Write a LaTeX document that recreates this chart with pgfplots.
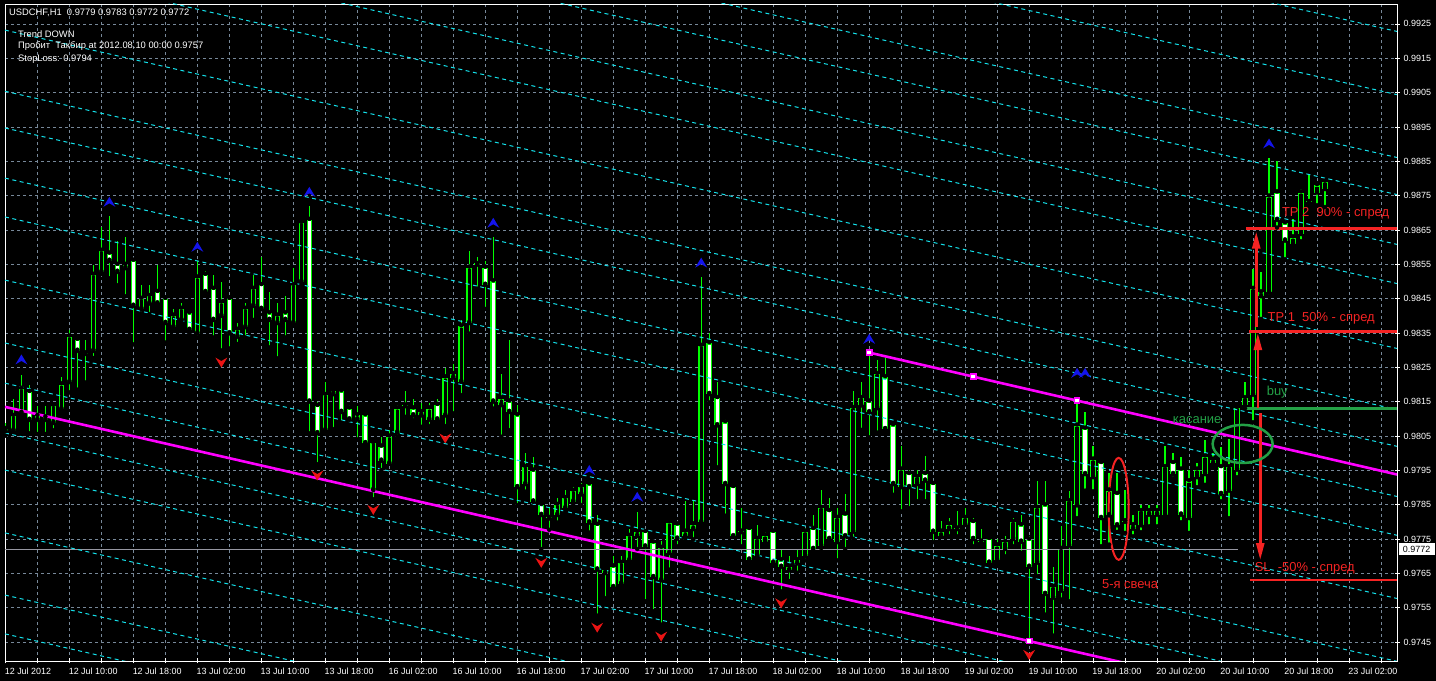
\documentclass[border=0pt]{standalone}
\usepackage{fontspec}
\setmainfont{Liberation Sans}
\usepackage{pgfplots}
\usepackage{pgfplotstable}
\pgfplotsset{compat=1.18}
\usetikzlibrary{arrows.meta}

\definecolor{mtgreen}{RGB}{0,255,0}
\definecolor{mtcyan}{RGB}{20,225,235}
\definecolor{mtmag}{RGB}{255,0,255}
\definecolor{mtgrid}{RGB}{119,136,153}
\definecolor{bidgray}{RGB}{150,150,160}
\definecolor{fracblue}{RGB}{20,20,235}
\definecolor{fracred}{RGB}{235,20,20}
\definecolor{annred}{RGB}{245,35,35}
\definecolor{anngreen}{RGB}{35,160,70}

% fractal arrows
\pgfdeclareplotmark{frup}{%
  \pgfpathmoveto{\pgfpoint{0bp}{5bp}}%
  \pgfpathlineto{\pgfpoint{-6bp}{-5bp}}%
  \pgfpathlineto{\pgfpoint{0bp}{-1.5bp}}%
  \pgfpathlineto{\pgfpoint{6bp}{-5bp}}%
  \pgfpathclose\pgfusepathqfill}
\pgfdeclareplotmark{frdown}{%
  \pgfpathmoveto{\pgfpoint{0bp}{-5bp}}%
  \pgfpathlineto{\pgfpoint{-6bp}{5bp}}%
  \pgfpathlineto{\pgfpoint{0bp}{1.5bp}}%
  \pgfpathlineto{\pgfpoint{6bp}{5bp}}%
  \pgfpathclose\pgfusepathqfill}

% USDCHF H1: bar, open, high, low, close
\pgfplotstableread{
i o h l c
0 0.98070 0.98088 0.98051 0.98064
1 0.98066 0.98158 0.98064 0.98108
2 0.98117 0.98229 0.98109 0.98187
3 0.98178 0.98200 0.98058 0.98097
4 0.98108 0.98137 0.98056 0.98097
5 0.98104 0.98137 0.98056 0.98097
6 0.98088 0.98140 0.98067 0.98137
7 0.98128 0.98221 0.98117 0.98200
8 0.98207 0.98360 0.98177 0.98339
9 0.98330 0.98330 0.98185 0.98298
10 0.98290 0.98330 0.98206 0.98289
11 0.98298 0.98548 0.98277 0.98519
12 0.98527 0.98660 0.98522 0.98589
13 0.98581 0.98692 0.98509 0.98560
14 0.98548 0.98619 0.98489 0.98528
15 0.98548 0.98631 0.98457 0.98539
16 0.98560 0.98560 0.98317 0.98429
17 0.98420 0.98491 0.98407 0.98449
18 0.98436 0.98491 0.98405 0.98457
19 0.98469 0.98548 0.98436 0.98436
20 0.98449 0.98449 0.98322 0.98379
21 0.98367 0.98420 0.98357 0.98400
22 0.98388 0.98438 0.98388 0.98420
23 0.98407 0.98407 0.98349 0.98359
24 0.98349 0.98561 0.98337 0.98511
25 0.98519 0.98530 0.98469 0.98469
26 0.98478 0.98519 0.98337 0.98388
27 0.98400 0.98499 0.98299 0.98438
28 0.98449 0.98449 0.98305 0.98349
29 0.98339 0.98379 0.98318 0.98359
30 0.98367 0.98438 0.98337 0.98420
31 0.98429 0.98519 0.98388 0.98478
32 0.98489 0.98570 0.98420 0.98420
33 0.98407 0.98469 0.98308 0.98388
34 0.98379 0.98438 0.98276 0.98400
35 0.98407 0.98457 0.98337 0.98388
36 0.98379 0.98539 0.98379 0.98489
37 0.98499 0.98679 0.98489 0.98670
38 0.98679 0.98721 0.98058 0.98150
39 0.98137 0.98148 0.97968 0.98058
40 0.98067 0.98207 0.98058 0.98169
41 0.98180 0.98188 0.98070 0.98172
42 0.98180 0.98180 0.98089 0.98120
43 0.98130 0.98140 0.98098 0.98098
44 0.98110 0.98137 0.98040 0.98098
45 0.98110 0.98110 0.98029 0.98029
46 0.97893 0.98029 0.97866 0.98029
47 0.98019 0.98048 0.97951 0.97978
48 0.97970 0.98067 0.97970 0.98048
49 0.98060 0.98140 0.98048 0.98130
50 0.98138 0.98180 0.98106 0.98137
51 0.98130 0.98159 0.98096 0.98110
52 0.98119 0.98145 0.98077 0.98110
53 0.98098 0.98147 0.98079 0.98130
54 0.98140 0.98159 0.98098 0.98098
55 0.98110 0.98249 0.98079 0.98220
56 0.98230 0.98261 0.98116 0.98220
57 0.98208 0.98389 0.98169 0.98369
58 0.98379 0.98590 0.98348 0.98540
59 0.98549 0.98571 0.98479 0.98550
60 0.98540 0.98559 0.98420 0.98490
61 0.98500 0.98631 0.98130 0.98150
62 0.98140 0.98230 0.98048 0.98159
63 0.98150 0.98331 0.98067 0.98120
64 0.98110 0.98140 0.97849 0.97901
65 0.97910 0.98000 0.97888 0.97959
66 0.97949 0.97990 0.97859 0.97859
67 0.97849 0.97849 0.97721 0.97820
68 0.97811 0.97840 0.97777 0.97810
69 0.97820 0.97869 0.97798 0.97849
70 0.97840 0.97893 0.97830 0.97869
71 0.97859 0.97903 0.97849 0.97890
72 0.97880 0.97912 0.97849 0.97901
73 0.97909 0.97909 0.97769 0.97798
74 0.97791 0.97820 0.97527 0.97661
75 0.97651 0.97670 0.97578 0.97661
76 0.97670 0.97701 0.97610 0.97610
77 0.97620 0.97701 0.97620 0.97680
78 0.97688 0.97779 0.97680 0.97759
79 0.97770 0.97830 0.97721 0.97759
80 0.97770 0.97772 0.97569 0.97728
81 0.97740 0.97740 0.97540 0.97639
82 0.97630 0.97743 0.97501 0.97724
83 0.97709 0.97798 0.97661 0.97798
84 0.97792 0.97792 0.97729 0.97751
85 0.97758 0.97862 0.97751 0.97771
86 0.97779 0.97862 0.97749 0.97792
87 0.97799 0.98513 0.97790 0.98312
88 0.98320 0.98351 0.98148 0.98172
89 0.98160 0.98208 0.97959 0.98081
90 0.98090 0.98100 0.97818 0.97910
91 0.97901 0.97910 0.97758 0.97758
92 0.97771 0.97840 0.97729 0.97770
93 0.97779 0.97779 0.97681 0.97690
94 0.97702 0.97792 0.97702 0.97750
95 0.97741 0.97771 0.97741 0.97760
96 0.97771 0.97771 0.97681 0.97681
97 0.97688 0.97719 0.97598 0.97669
98 0.97659 0.97700 0.97628 0.97669
99 0.97679 0.97719 0.97652 0.97688
100 0.97700 0.97782 0.97688 0.97771
101 0.97779 0.97821 0.97710 0.97721
102 0.97731 0.97892 0.97724 0.97840
103 0.97831 0.97871 0.97750 0.97750
104 0.97741 0.97840 0.97688 0.97811
105 0.97821 0.97882 0.97721 0.97758
106 0.97771 0.98181 0.97751 0.98131
107 0.98139 0.98208 0.98068 0.98160
108 0.98150 0.98293 0.98046 0.98119
109 0.98131 0.98271 0.98060 0.98230
110 0.98221 0.98276 0.98070 0.98070
111 0.98081 0.98081 0.97879 0.97910
112 0.97901 0.98021 0.97831 0.97952
113 0.97939 0.97952 0.97840 0.97901
114 0.97910 0.97952 0.97860 0.97930
115 0.97939 0.97992 0.97860 0.97920
116 0.97910 0.97910 0.97741 0.97771
117 0.97758 0.97802 0.97758 0.97771
118 0.97779 0.97811 0.97758 0.97792
119 0.97780 0.97833 0.97758 0.97779
120 0.97792 0.97840 0.97792 0.97811
121 0.97799 0.97811 0.97729 0.97750
122 0.97742 0.97779 0.97731 0.97741
123 0.97750 0.97750 0.97681 0.97681
124 0.97688 0.97750 0.97679 0.97731
125 0.97721 0.97758 0.97700 0.97741
126 0.97750 0.97811 0.97729 0.97799
127 0.97790 0.97821 0.97710 0.97742
128 0.97748 0.97758 0.97450 0.97669
129 0.97681 0.97918 0.97642 0.97840
130 0.97848 0.97918 0.97530 0.97590
131 0.97579 0.97669 0.97469 0.97610
132 0.97600 0.97789 0.97574 0.97721
133 0.97731 0.97891 0.97569 0.97860
134 0.97848 0.98150 0.97811 0.98080
135 0.98071 0.98119 0.97891 0.97939
136 0.97930 0.98021 0.97889 0.97981
137 0.97971 0.97971 0.97729 0.97811
138 0.97819 0.97942 0.97734 0.97891
139 0.97881 0.97942 0.97771 0.97790
140 0.97801 0.97893 0.97768 0.97800
141 0.97790 0.97821 0.97758 0.97780
142 0.97790 0.97850 0.97770 0.97831
143 0.97821 0.97850 0.97787 0.97831
144 0.97821 0.97850 0.97787 0.97831
145 0.97819 0.98021 0.97809 0.97959
146 0.97971 0.98002 0.97927 0.97939
147 0.97952 0.97990 0.97799 0.97821
148 0.97811 0.97952 0.97768 0.97918
149 0.97930 0.97971 0.97901 0.97952
150 0.97939 0.98039 0.97908 0.97990
151 0.97981 0.98000 0.97963 0.97971
152 0.97959 0.98019 0.97860 0.97881
153 0.97891 0.98042 0.97811 0.97959
154 0.97952 0.98131 0.97930 0.98131
155 0.98140 0.98208 0.98131 0.98160
156 0.98170 0.98536 0.98090 0.98478
157 0.98468 0.98527 0.98391 0.98457
158 0.98468 0.98861 0.98457 0.98747
159 0.98759 0.98851 0.98657 0.98679
160 0.98669 0.98669 0.98565 0.98619
161 0.98609 0.98681 0.98609 0.98628
162 0.98638 0.98769 0.98617 0.98759
163 0.98731 0.98812 0.98730 0.98730
164 0.98759 0.98783 0.98722 0.98780
165 0.98769 0.98798 0.98717 0.98790
}\candles

\begin{document}
\begin{tikzpicture}
\useasboundingbox (0,0) rectangle (1436bp,681bp);
\fill[black] (0,0) rectangle (1436bp,681bp);
\begin{axis}[
    at={(5bp,20bp)}, anchor=south west,
    scale only axis, width=1392bp, height=657bp,
    xmin=-0.05, xmax=174, ymin=0.97395, ymax=0.99308,
    axis line style={white, line width=0.8bp},
    tick style={white, line width=0.8bp},
    tick align=center, major tick length=5bp, minor tick length=5bp,
    xtick pos=left, ytick pos=right, yticklabel pos=right,
    xtick={0,8,...,168},
    minor xtick={4,12,...,172},
    xticklabels={12 Jul 2012,12 Jul 10:00,12 Jul 18:00,13 Jul 02:00,13 Jul 10:00,13 Jul 18:00,16 Jul 02:00,16 Jul 10:00,16 Jul 18:00,17 Jul 02:00,17 Jul 10:00,17 Jul 18:00,18 Jul 02:00,18 Jul 10:00,18 Jul 18:00,19 Jul 02:00,19 Jul 10:00,19 Jul 18:00,20 Jul 02:00,20 Jul 10:00,20 Jul 18:00,23 Jul 02:00},
    ytick={0.9745,0.9755,0.9765,0.9775,0.9785,0.9795,0.9805,0.9815,0.9825,0.9835,0.9845,0.9855,0.9865,0.9875,0.9885,0.9895,0.9905,0.9915,0.9925},
    yticklabels={0.9745,0.9755,0.9765,0.9775,0.9785,0.9795,0.9805,0.9815,0.9825,0.9835,0.9845,0.9855,0.9865,0.9875,0.9885,0.9895,0.9905,0.9915,0.9925},
    ticklabel style={font=\fontsize{9}{10}\selectfont, text=white},
    xticklabel style={anchor=north west, inner sep=0pt, xshift=-0.8bp, yshift=-4bp},
    yticklabel style={anchor=west, inner sep=0pt, xshift=4bp},
    grid=both,
    major grid style={mtgrid, dash pattern=on 3bp off 3bp, line width=0.8bp},
    minor grid style={mtgrid, dash pattern=on 3bp off 3bp, line width=0.8bp},
]
% wicks
\addplot[only marks, mark=none, error bars/.cd, y dir=plus, y explicit, error mark=none,
    error bar style={draw=mtgreen, line width=1.2bp}]
    table[x=i, y=l, y error expr=\thisrow{h}-\thisrow{l}] {\candles};
% body outline
\addplot[only marks, mark=none, error bars/.cd, y dir=plus, y explicit, error mark=none,
    error bar style={draw=mtgreen, line width=5.6bp}]
    table[x=i, y expr={min(\thisrow{o},\thisrow{c})},
          y error expr={max(abs(\thisrow{o}-\thisrow{c}),0.00004)}] {\candles};
% bear bodies: white
\addplot[only marks, mark=none, error bars/.cd, y dir=plus, y explicit, error mark=none,
    error bar style={draw=white, line width=3.4bp}]
    table[x=i, y expr={\thisrow{c}+0.000035},
          y error expr={(\thisrow{o}>\thisrow{c})*max(\thisrow{o}-\thisrow{c}-0.00007,0)}] {\candles};
% bull bodies: black
\addplot[only marks, mark=none, error bars/.cd, y dir=plus, y explicit, error mark=none,
    error bar style={draw=black, line width=3.4bp}]
    table[x=i, y expr={\thisrow{o}+0.000035},
          y error expr={(\thisrow{c}>\thisrow{o})*max(\thisrow{c}-\thisrow{o}-0.00007,0)}] {\candles};

% bid line
\addplot[bidgray, line width=0.8bp] coordinates {(-0.05,0.9772) (154.1,0.9772)};

% parallel channel levels
\addplot[mtcyan, line width=1bp, dash pattern=on 4bp off 3.5bp, empty line=jump] table {
x y
-0.05 1.00155
174 0.99228

-0.05 0.99971
174 0.99044

-0.05 0.99788
174 0.98861

-0.05 0.99680
174 0.98753

-0.05 0.99535
174 0.98608

-0.05 0.99421
174 0.98494

-0.05 0.99232
174 0.98305

-0.05 0.99054
174 0.98127

-0.05 0.98947
174 0.98020

-0.05 0.98801
174 0.97874

-0.05 0.98688
174 0.97761

-0.05 0.98504
174 0.97577

-0.05 0.98321
174 0.97394

-0.05 0.98204
174 0.97277

-0.05 0.98059
174 0.97132

-0.05 0.97951
174 0.97024

-0.05 0.97768
174 0.96841

-0.05 0.97587
174 0.96660

-0.05 0.97474
174 0.96547
};

% trend lines
\addplot[mtmag, line width=2.6bp] coordinates {(-0.05,0.98135) (174,0.97208)};
\addplot[mtmag, line width=2.6bp] coordinates {(108,0.98293) (174,0.97938)};
\addplot[only marks, mark=square*, mark size=2.6bp, draw=mtmag, fill=white, line width=1.6bp]
    coordinates {(108,0.98293) (121,0.98223) (134,0.98153) (128,0.97453)};

% fractals
\addplot[only marks, mark=frup, fracblue] coordinates {
(2,0.98273) (13,0.98732) (24,0.98601) (38,0.98761) (61,0.98671) (73,0.97951)
(79,0.97873) (87,0.98555) (108,0.98333) (134,0.98234) (135,0.98234) (158,0.98902)};
\addplot[only marks, mark=frdown, fracred] coordinates {
(27,0.98264) (39,0.97935) (46,0.97835) (55,0.98043) (67,0.97681) (74,0.97492)
(82,0.97466) (97,0.97563) (128,0.97413)};

% trade levels
\addplot[annred, line width=2.7bp] coordinates {(155.1,0.98655) (174,0.98655)};
\addplot[annred, line width=2.7bp] coordinates {(155.5,0.98354) (174,0.98354)};
\addplot[anngreen, line width=2.7bp] coordinates {(155.0,0.98131) (174,0.98131)};
\addplot[annred, line width=2.7bp] coordinates {(155.6,0.97631) (174,0.97631)};
\addplot[annred, line width=2.6bp, -{Triangle[length=17bp,width=8bp]}]
    coordinates {(156.4,0.98368) (156.4,0.98645)};
\addplot[annred, line width=2.6bp, -{Triangle[length=17bp,width=8bp]}]
    coordinates {(156.6,0.98132) (156.6,0.98350)};
\addplot[annred, line width=2.6bp, -{Triangle[length=17bp,width=8bp]}]
    coordinates {(156.9,0.98117) (156.9,0.97689)};

\draw[anngreen, line width=2.5bp] (axis cs:154.7,0.98027) ellipse [x radius=30bp, y radius=19bp];
\draw[annred, line width=2bp] (axis cs:139.2,0.97838) ellipse [x radius=10bp, y radius=51bp];

\node[anchor=west, inner sep=0pt, text=annred, font=\fontsize{13}{14}\selectfont] at (axis cs:159.6,0.98699) {TP 2\ \ 90\% - спред};
\node[anchor=west, inner sep=0pt, text=annred, font=\fontsize{13}{14}\selectfont] at (axis cs:157.8,0.98394) {TP 1\ \ 50\% - спред};
\node[anchor=west, inner sep=0pt, text=anngreen, font=\fontsize{13}{14}\selectfont] at (axis cs:157.7,0.98178) {buy};
\node[anchor=west, inner sep=0pt, text=annred, font=\fontsize{13}{14}\selectfont] at (axis cs:156.2,0.97665) {SL\ \ -50\% - спред};
\node[anchor=west, inner sep=0pt, text=anngreen, font=\fontsize{13}{14}\selectfont] at (axis cs:145.96,0.98097) {касание};
\node[anchor=west, inner sep=0pt, text=annred, font=\fontsize{13}{14}\selectfont] at (axis cs:137.1,0.97619) {5-я свеча};

\coordinate (bid) at (axis cs:174,0.9772);
\end{axis}
\node[anchor=west, fill=white, text=black, inner sep=0pt, minimum height=12bp, minimum width=36bp,
      font=\fontsize{9}{10}\selectfont] at ([xshift=1.5bp]bid) {0.9772};
\begin{scope}[every node/.style={anchor=base west, inner sep=0pt, text=white, font=\fontsize{9.4}{10}\selectfont}]
\node at (9bp,665bp) {USDCHF,H1\ \ 0.9779 0.9783 0.9772 0.9772};
\node at (18bp,643.3bp) {Trend DOWN};
\node at (18bp,632bp) {Пробит\ \ Такбир at 2012.08.10 00:00 0.9757};
\node at (18bp,619.5bp) {StopLoss: 0.9794};
\end{scope}
\end{tikzpicture}
\end{document}
